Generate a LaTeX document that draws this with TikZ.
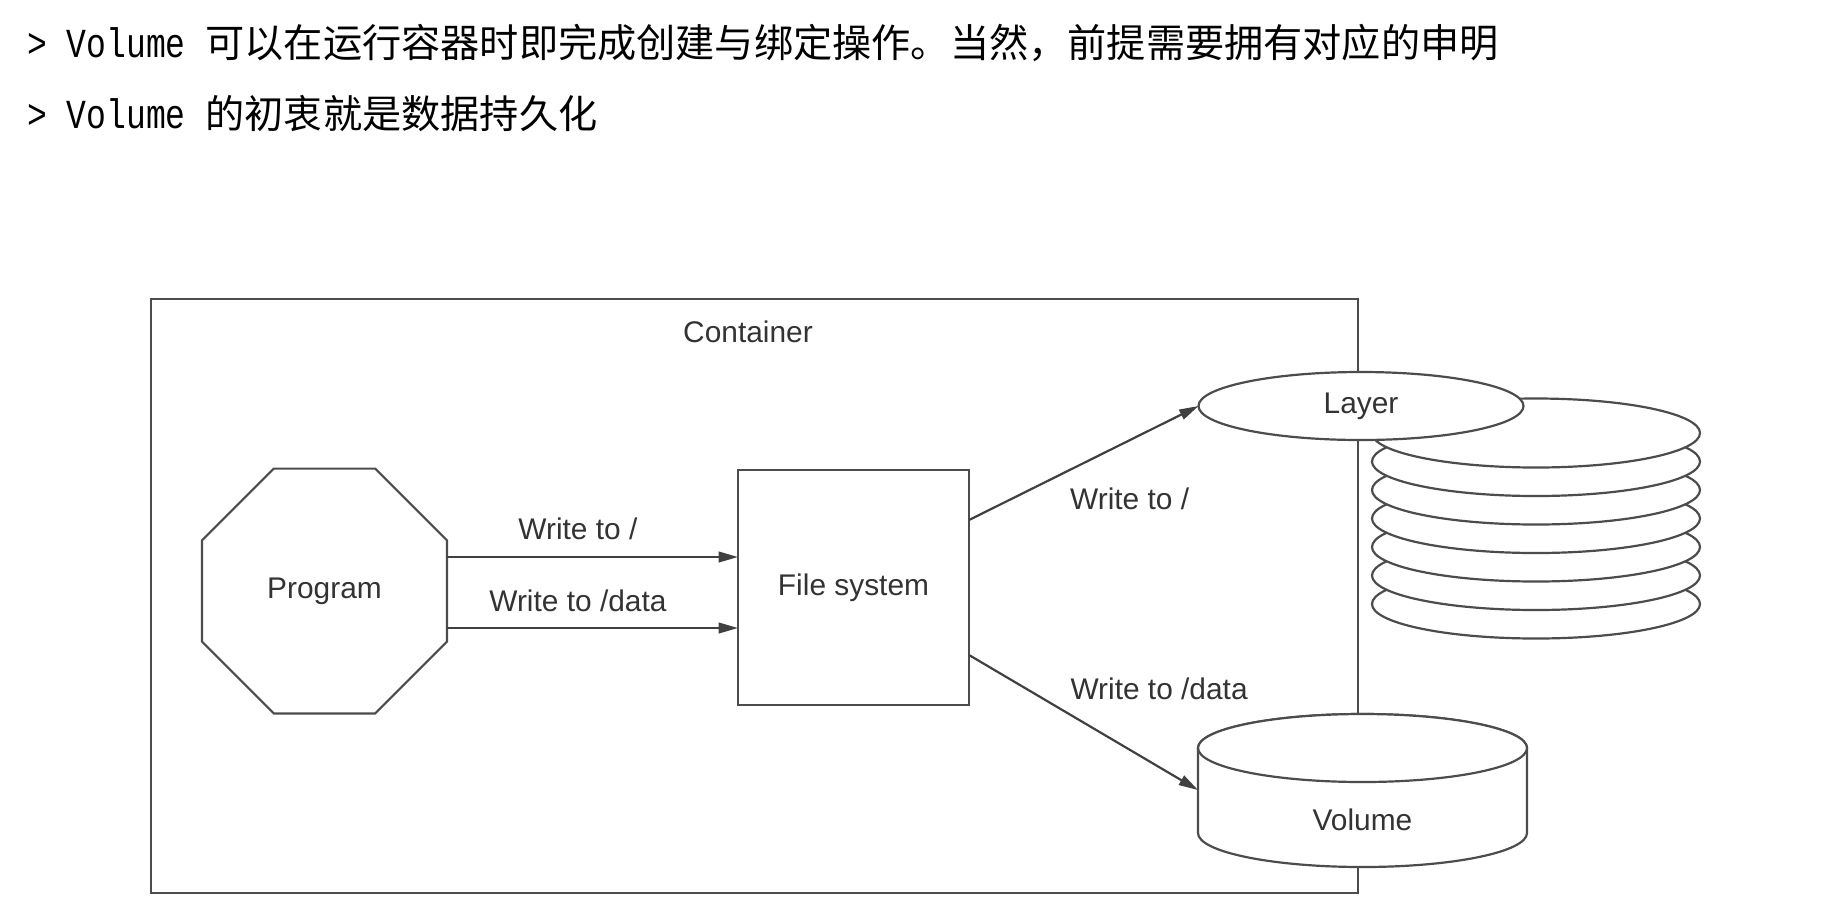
\documentclass[tikz,border=0pt]{standalone}
\usepackage{fontspec}
\setmainfont{Liberation Sans}
\setmonofont[FakeStretch=0.8]{Liberation Mono}
\newfontfamily\cjkfont{Noto Sans CJK SC}
\usepackage{tikz}
\usetikzlibrary{arrows.meta,shapes.geometric}

\begin{document}
\begin{tikzpicture}[
  line width=1.25pt,
  frame/.style={draw=black!70, inner sep=0pt, outer sep=0pt},
  box/.style={draw=black!70, fill=white, font=\fontsize{17}{20}\selectfont, text=black!80, inner sep=3pt, outer sep=0pt},
  octa/.style={box, regular polygon, regular polygon sides=8, minimum size=5.30cm, inner sep=0pt},
  disk/.style={draw=black!70, fill=white},
  arr/.style={-{Triangle[length=11pt,width=6pt]}, draw=black!75},
  lab/.style={font=\fontsize{17}{20}\selectfont, text=black!80, inner sep=3pt, outer sep=0pt},
  note/.style={anchor=base west, inner sep=0pt}
]
\useasboundingbox (0,0) rectangle (36.76,-18.2);

% notes above the figure
\node[note] (line1) at (0.52,-1.15) {\fontsize{23.5}{24}\ttfamily > Volume {\cjkfont\fontsize{22.3}{24}\selectfont 可以在运行容器时即完成创建与绑定操作。当然，前提需要拥有对应的申明}};
\node[note] (line2) at (0.52,-2.56) {\fontsize{23.5}{24}\ttfamily > Volume {\cjkfont\fontsize{22.3}{24}\selectfont 的初衷就是数据持久化}};

% container frame
\node[frame, minimum width=24.14cm, minimum height=11.88cm] (cont) at (15.09,-11.92) {};
\node[lab] (contlbl) at (14.96,-6.64) {Container};

\node[octa] (prog) at (6.49,-11.82) {Program};
\node[box, minimum width=4.62cm, minimum height=4.70cm] (fs) at (17.07,-11.75) {File system};

% image layers, back to front
\foreach \k in {6,...,0}
  \draw[disk] (30.72,{-8.66-0.57*\k}) ellipse [x radius=3.28cm, y radius=0.69cm];
\node[box, ellipse, minimum width=6.50cm, minimum height=1.36cm] (layer) at (27.22,-8.12) {Layer};

% volume drum
\draw[disk] (23.96,-14.96) -- (23.96,-16.66) arc[start angle=180, end angle=360, x radius=3.29cm, y radius=0.68cm]
  -- (30.54,-14.96) arc[start angle=0, end angle=180, x radius=3.29cm, y radius=0.68cm] -- cycle;
\draw[disk] (27.25,-14.96) ellipse [x radius=3.29cm, y radius=0.68cm];
\node[lab, minimum width=6.58cm] (vol) at (27.25,-16.40) {Volume};

\draw[arr] ([yshift=0.68cm]prog.east) -- node[lab, pos=0.45, above=7pt]{Write to /} ([yshift=0.68cm]prog.east -| fs.west);
\draw[arr] ([yshift=-0.74cm]prog.east) -- node[lab, pos=0.45, above=6pt]{Write to /data} ([yshift=-0.74cm]prog.east -| fs.west);
\draw[arr] ([yshift=1.35cm]fs.east) -- node[lab, pos=0.70, below=24pt]{Write to /} (layer.west);
\draw[arr] ([yshift=-1.35cm]fs.east) -- node[lab, pos=0.83, above=35pt]{Write to /data} ([yshift=0.60cm]vol.west);
\end{tikzpicture}
\end{document}
